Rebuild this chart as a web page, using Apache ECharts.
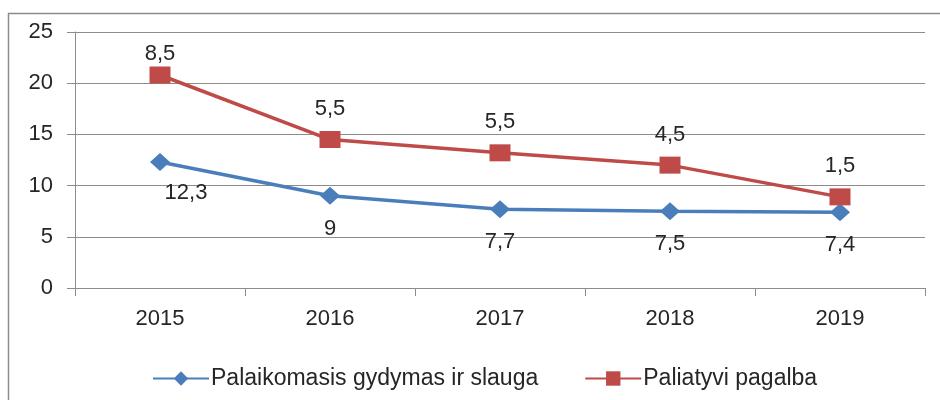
<!DOCTYPE html>
<html lang="lt">
<head>
    <meta charset="UTF-8">
    <title>Chart</title>
	<style>
	html, body { margin: 0; padding: 0; background: #fff; }
	#chart { width: 940px; height: 400px; }
	</style>
</head>
<body>
	<div id="chart"></div>
	<script src="https://cdn.jsdelivr.net/npm/echarts@6/dist/echarts.min.js"></script>
	<script>
	// duomenys
	var years = ['2015', '2016', '2017', '2018', '2019'];
	var slauga = [12.3, 9, 7.7, 7.5, 7.4];      // Palaikomasis gydymas ir slauga
	var paliatyvi = [8.5, 5.5, 5.5, 4.5, 1.5];  // Paliatyvi pagalba (sukrauta ant slaugos)
	var yTicks = [0, 5, 10, 15, 20, 25];

	var font = 'Liberation Sans';
	var txt = '#262626';
	var fs = 22;

	function fmt(p) {
		return String(p.value).replace('.', ',');
	}

	// 2015 m. etiketes Excel'yje buvo pastumtos ranka
	var blueData = slauga.map(function (v, i) {
		return i === 0 ? { value: v, label: { offset: [26, -2] } } : v;
	});
	var redData = paliatyvi.map(function (v, i) {
		return i === 0 ? { value: v, label: { offset: [0, 9] } } : v;
	});

	var myChart = echarts.init(document.getElementById('chart'));
	myChart.setOption({
		animation: false,
		textStyle: { fontFamily: font },
		graphic: [{
			type: 'rect',
			shape: { x: 8.5, y: 13.5, width: 960, height: 420 },
			style: { fill: 'none', stroke: '#8c8c8c', lineWidth: 1.5 },
			silent: true
		}],
		grid: { left: 75, right: 15, top: 32, bottom: 112 },
		legend: {
			top: 362,
			left: 147,
			itemGap: 46,
			itemWidth: 56,
			itemHeight: 18,
			textStyle: { fontSize: 23, color: txt, fontFamily: font, padding: [0, 0, 0, -3] },
			data: ['Palaikomasis gydymas ir slauga', 'Paliatyvi pagalba']
		},
		xAxis: {
			type: 'category',
			data: years,
			boundaryGap: true,
			axisLine: { lineStyle: { color: '#8c8c8c', width: 1 } },
			axisTick: { show: true, length: 8, lineStyle: { color: '#8c8c8c' } },
			axisLabel: { fontSize: fs, color: txt, margin: 20 }
		},
		yAxis: {
			type: 'value',
			min: yTicks[0],
			max: yTicks[yTicks.length - 1],
			interval: 5,
			axisLine: { show: true, lineStyle: { color: '#8c8c8c' } },
			axisTick: { show: true, length: 8, lineStyle: { color: '#8c8c8c' } },
			splitLine: { lineStyle: { color: '#8c8c8c', width: 1 } },
			axisLabel: { fontSize: fs, color: txt, margin: 22 }
		},
		series: [
			{
				name: 'Palaikomasis gydymas ir slauga',
				type: 'line',
				stack: 'viso',
				data: blueData,
				symbol: 'diamond',
				symbolSize: [20, 18],
				itemStyle: { color: '#4a7ebb' },
				lineStyle: { width: 3.5, color: '#4a7ebb' },
				label: {
					show: true,
					position: 'bottom',
					distance: 13,
					fontSize: fs,
					color: txt,
					formatter: fmt
				}
			},
			{
				name: 'Paliatyvi pagalba',
				type: 'line',
				stack: 'viso',
				data: redData,
				symbol: 'rect',
				symbolSize: [21, 17],
				itemStyle: { color: '#be4b48' },
				lineStyle: { width: 3.5, color: '#be4b48' },
				label: {
					show: true,
					position: 'top',
					distance: 11,
					fontSize: fs,
					color: txt,
					formatter: fmt
				}
			}
		]
	});
	</script>
</body>
</html>
